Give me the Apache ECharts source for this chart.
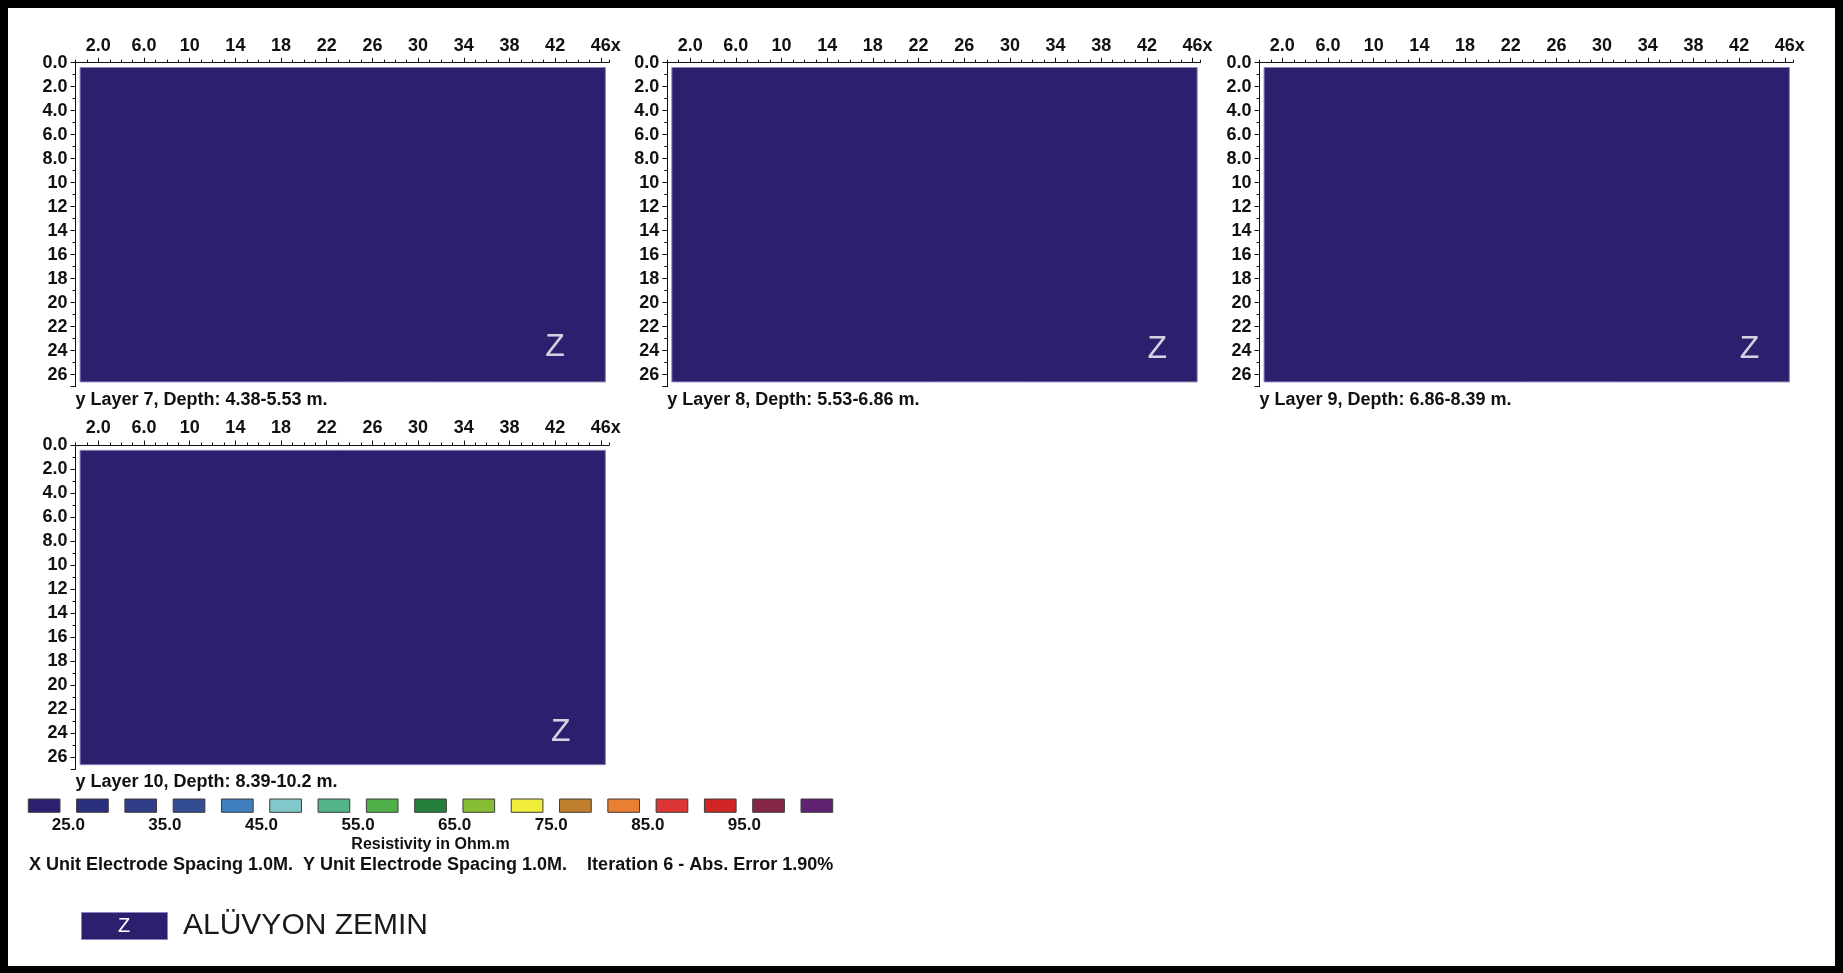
<!DOCTYPE html>
<html>
<head>
<meta charset="utf-8">
<script src="https://cdn.jsdelivr.net/npm/echarts@6.0.0/dist/echarts.min.js"></script>
<style>
  html, body { margin: 0; padding: 0; background: #fff; }
  #main { width: 1843px; height: 973px; }
</style>
</head>
<body>
<div id="main"></div>
<script>
// layers of the inverted model
var layerNames = ['Layer 7', 'Layer 8', 'Layer 9', 'Layer 10'];
var layerDepths = ['4.38-5.53', '5.53-6.86', '6.86-8.39', '8.39-10.2'];
var layerResistivity = [18, 18, 18, 18];   // whole slice is in the lowest class
var modelX = [0.4, 46.4];
var modelY = [0.4, 26.6];
var xTickValues = [2, 6, 10, 14, 18, 22, 26, 30, 34, 38, 42, 46];

// zone annotation
var zoneCode = 'Z';
var zoneName = 'ALÜVYON ZEMIN';
var zoneX = [42.0, 42.9, 42.9, 42.5];
var zoneY = [23.7, 23.9, 23.9, 23.9];

// colour scale
var legendBreaks = [20, 25, 30, 35, 40, 45, 50, 55, 60, 65, 70, 75, 80, 85, 90, 95, 100, 105];
var legendLabels = [25, 35, 45, 55, 65, 75, 85, 95];
var legendColors = ['#2c1f6e', '#2b2f80', '#2f3d88', '#334c94', '#3f7fc0', '#80c8cc', '#52b68a',
  '#4fb048', '#23803c', '#86bd34', '#f0ec3c', '#c07f2c', '#ea7f33', '#de3636', '#d02525',
  '#862445', '#5e2270'];
var footNote = 'X Unit Electrode Spacing 1.0M.  Y Unit Electrode Spacing 1.0M.    Iteration 6 - Abs. Error 1.90%';

var fontFam = '"Liberation Sans", Arial, sans-serif';
var panelLeft = [75.5, 667.3, 1259.5, 75.5];
var panelTop = [62.7, 62.7, 62.7, 445.5];

function fmt(v) { return v < 10 ? v.toFixed(1) : String(v); }
var boldText = { color: '#111', fontWeight: 'bold', fontSize: 18, fontFamily: fontFam };

var grids = [], xAxes = [], yAxes = [], series = [], mapSeries = [];

layerNames.forEach(function (name, i) {
  grids.push({ left: panelLeft[i], top: panelTop[i], width: 533.3, height: 324 });
  xAxes.push({
    gridIndex: i, type: 'value', position: 'top', min: 0, max: 46.7,
    axisLine: { onZero: false, lineStyle: { color: '#111', width: 1 } },
    axisTick: { customValues: xTickValues, length: 5, lineStyle: { color: '#111' } },
    axisLabel: Object.assign({ customValues: xTickValues, formatter: fmt, margin: 8 }, boldText),
    splitLine: { show: false },
    name: 'x', nameLocation: 'end', nameGap: 12, nameMoveOverlap: false,
    nameTextStyle: Object.assign({ align: 'right', verticalAlign: 'bottom', padding: [0, 0, 8, 0] }, boldText)
  });
  xAxes.push({
    gridIndex: i, type: 'value', position: 'top', min: 0, max: 46.7, interval: 1,
    axisLine: { show: false },
    axisTick: { length: 3, lineStyle: { color: '#111' } },
    axisLabel: { show: false },
    splitLine: { show: false }
  });
  yAxes.push({
    gridIndex: i, type: 'value', inverse: true, min: 0, max: 27, interval: 2,
    axisLine: { show: true, onZero: false, lineStyle: { color: '#111', width: 1 } },
    axisTick: { show: true, length: 5, lineStyle: { color: '#111' } },
    minorTick: { show: true, splitNumber: 2, length: 3, lineStyle: { color: '#111' } },
    axisLabel: Object.assign({ formatter: fmt, margin: 8, showMaxLabel: false }, boldText),
    splitLine: { show: false },
    name: 'y ' + name + ', Depth: ' + layerDepths[i] + ' m.',
    nameLocation: 'end', nameGap: 13,
    nameTextStyle: Object.assign({ align: 'left', verticalAlign: 'middle' }, boldText)
  });

  mapSeries.push(series.length);
  series.push({
    type: 'custom', xAxisIndex: 2 * i, yAxisIndex: i, silent: true,
    data: [[modelX[0], modelY[0], modelX[1], modelY[1], layerResistivity[i]]],
    encode: { x: [0, 2], y: [1, 3] },
    renderItem: function (params, api) {
      var p0 = api.coord([api.value(0), api.value(1)]);
      var p1 = api.coord([api.value(2), api.value(3)]);
      return {
        type: 'rect',
        shape: { x: p0[0], y: p0[1], width: p1[0] - p0[0], height: p1[1] - p0[1] },
        style: { fill: api.visual('color'), stroke: '#8a84c0', lineWidth: 1 }
      };
    }
  });
  series.push({
    type: 'scatter', xAxisIndex: 2 * i, yAxisIndex: i, silent: true,
    symbolSize: 0,
    data: [[zoneX[i], zoneY[i]]],
    label: { show: true, position: 'inside', formatter: zoneCode, color: '#fff',
      fontSize: 32, fontFamily: fontFam }
  });
});

// colour legend
grids.push({ left: 20, top: 799, width: 821, height: 13.3 });
xAxes.push({
  gridIndex: 4, type: 'value', position: 'bottom', min: 20, max: 105,
  axisLine: { show: false }, axisTick: { show: false }, splitLine: { show: false },
  axisLabel: Object.assign({ customValues: legendLabels, formatter: function (v) { return v.toFixed(1); },
    margin: 5 }, boldText, { fontSize: 17 }),
  name: 'Resistivity in Ohm.m', nameLocation: 'middle', nameGap: 24,
  nameTextStyle: Object.assign({}, boldText, { fontSize: 16 })
});
yAxes.push({ gridIndex: 4, type: 'value', min: 0, max: 1, show: false });
series.push({
  type: 'custom', xAxisIndex: xAxes.length - 1, yAxisIndex: 4, silent: true,
  data: legendColors.map(function (c, k) { return [legendBreaks[k], legendBreaks[k + 1], k]; }),
  encode: { x: [0, 1] },
  renderItem: function (params, api) {
    var p0 = api.coord([api.value(0), 1]);
    var p1 = api.coord([api.value(1), 0]);
    var w = p1[0] - p0[0];
    var gap = w * 0.172;
    return {
      type: 'rect',
      shape: { x: p0[0] + gap, y: p0[1], width: w - 2 * gap, height: p1[1] - p0[1] },
      style: { fill: legendColors[api.value(2)], stroke: '#3c3c3c', lineWidth: 1 }
    };
  }
});

var pieces = legendColors.map(function (c, k) {
  var p = { lt: legendBreaks[k + 1], color: c };
  if (k > 0) p.gte = legendBreaks[k];
  return p;
});

var chart = echarts.init(document.getElementById('main'));
chart.setOption({
  backgroundColor: '#fff',
  animation: false,
  grid: grids,
  xAxis: xAxes,
  yAxis: yAxes,
  visualMap: {
    type: 'piecewise', show: false, dimension: 4, seriesIndex: mapSeries, pieces: pieces
  },
  series: series,
  graphic: [
    { type: 'rect', left: 0, top: 0, shape: { width: 1843, height: 8 }, style: { fill: '#000' } },
    { type: 'rect', left: 0, top: 0, shape: { width: 8, height: 973 }, style: { fill: '#000' } },
    { type: 'rect', left: 1835, top: 0, shape: { width: 8, height: 973 }, style: { fill: '#000' } },
    { type: 'rect', left: 0, top: 966, shape: { width: 1843, height: 7 }, style: { fill: '#000' } },
    { type: 'text', left: 29, top: 856,
      style: { text: footNote, fill: '#111', font: 'bold 18px ' + fontFam } },
    { type: 'rect', left: 81, top: 912,
      shape: { width: 86, height: 27 },
      style: { fill: legendColors[0], stroke: '#8a84c0', lineWidth: 1 } },
    { type: 'text', x: 124, y: 926,
      style: { text: zoneCode, fill: '#fff', font: '20px ' + fontFam, align: 'center', verticalAlign: 'middle' } },
    { type: 'text', x: 183, y: 926,
      style: { text: zoneName, fill: '#1a1a1a', font: '30px ' + fontFam, align: 'left', verticalAlign: 'middle' } }
  ]
});
</script>
</body>
</html>
